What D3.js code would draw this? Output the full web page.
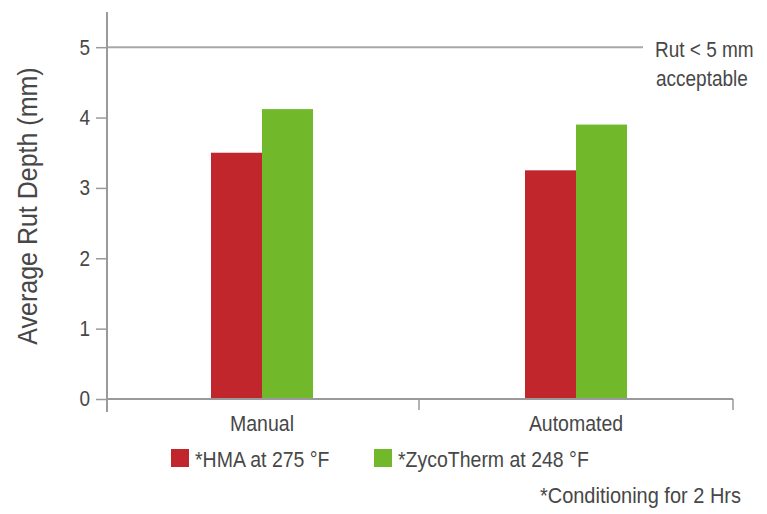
<!DOCTYPE html>
<html>
<head>
<meta charset="utf-8">
<script src="https://cdn.jsdelivr.net/npm/d3@7"></script>
<style>
  html, body { margin: 0; padding: 0; background: #fff; }
  svg { display: block; }
  text { font-family: "Liberation Sans", Arial, Helvetica, sans-serif; fill: #474747; }
</style>
</head>
<body>
<svg id="chart" width="767" height="514"></svg>
<script>
// Rut depth by compaction method and mix type
const categories = ["Manual", "Automated"];
const seriesNames = ["*HMA at 275 °F", "*ZycoTherm at 248 °F"];
const hmaValues = [3.5, 3.25];
const zycoValues = [4.12, 3.9];
const yTicks = [0, 1, 2, 3, 4, 5];
const limitValue = 5;
const limitLabel = ["Rut < 5 mm", "acceptable"];
const footnote = "*Conditioning for 2 Hrs";
const yTitle = "Average Rut Depth (mm)";

const colors = ["#c1262d", "#71b82a"];
const axisColor = "#9a9a9a";
const stretch = 1.12; // slightly tall lettering

const svg = d3.select("#chart");

const plot = { left: 107, right: 734, top: 12, bottom: 399 };

const y = d3.scaleLinear().domain([0, 5.5]).range([plot.bottom, plot.top]);
const x = d3.scaleBand().domain(categories).range([105, 733]).padding(0);
const groupWidth = 102;
const xInner = d3.scaleBand().domain(seriesNames).range([0, groupWidth]).padding(0);

const rows = categories.map((c, i) => ({ category: c, values: [hmaValues[i], zycoValues[i]] }));

// text placed at (x, y) on its baseline, stretched vertically
function label(parent, x0, y0, str, size, anchor) {
  return parent.append("text")
    .attr("transform", `translate(${x0},${y0}) scale(1,${stretch})`)
    .attr("text-anchor", anchor || "start")
    .style("font-size", size + "px")
    .text(str);
}

// Limit line at 5 mm
svg.append("line")
  .attr("x1", plot.left).attr("x2", 643)
  .attr("y1", y(limitValue)).attr("y2", y(limitValue))
  .attr("stroke", "#a8a8a8").attr("stroke-width", 2);

label(svg, 655, 57, limitLabel[0], 19);
label(svg, 656, 86, limitLabel[1], 19);

// Bars
const groups = svg.append("g").selectAll("g")
  .data(rows).join("g")
  .attr("transform", d => `translate(${x(d.category) + (x.bandwidth() - groupWidth) / 2},0)`);

groups.selectAll("rect")
  .data(d => d.values.map((v, j) => ({ series: seriesNames[j], value: v, j })))
  .join("rect")
  .attr("x", d => xInner(d.series))
  .attr("width", xInner.bandwidth())
  .attr("y", d => y(d.value))
  .attr("height", d => y(0) - y(d.value))
  .attr("fill", d => colors[d.j]);

// Y axis
const yAxis = d3.axisLeft(y).tickValues(yTicks).tickSize(11).tickPadding(6).tickFormat(d3.format("d"));
const gy = svg.append("g").attr("transform", `translate(${plot.left},0)`).call(yAxis);
gy.select(".domain").remove();
gy.selectAll(".tick line").attr("stroke", axisColor).attr("stroke-width", 1.5);
gy.selectAll(".tick text").style("font-size", "19px").attr("fill", "#474747")
  .style("font-family", '"Liberation Sans", Arial, sans-serif')
  .attr("transform", `scale(1,${stretch})`);
svg.append("line")
  .attr("x1", plot.left).attr("x2", plot.left)
  .attr("y1", plot.top).attr("y2", 412)
  .attr("stroke", axisColor).attr("stroke-width", 2);

// X axis: baseline with ticks at band boundaries
const xAxis = d3.axisBottom(x).tickSize(0).tickPadding(0).tickFormat(() => "");
const gx = svg.append("g").attr("transform", `translate(0,${plot.bottom})`).call(xAxis);
gx.select(".domain").remove();
gx.selectAll(".tick").each(function (d) {
  label(d3.select(this), 0, 32, d, 19.5, "middle");
});
svg.append("line")
  .attr("x1", plot.left).attr("x2", x.range()[1])
  .attr("y1", plot.bottom).attr("y2", plot.bottom)
  .attr("stroke", axisColor).attr("stroke-width", 2);
const boundaries = categories.slice(1).map(c => x(c)).concat([x.range()[1]]);
svg.append("g").selectAll("line")
  .data(boundaries).join("line")
  .attr("x1", d => d).attr("x2", d => d)
  .attr("y1", plot.bottom).attr("y2", plot.bottom + 11)
  .attr("stroke", axisColor).attr("stroke-width", 1.5);

// Y title
svg.append("text")
  .attr("transform", `translate(37,206) rotate(-90) scale(1,${stretch})`)
  .attr("text-anchor", "middle")
  .style("font-size", "25px")
  .text(yTitle);

// Legend
const legendX = [171, 374];
const legend = svg.append("g").selectAll("g")
  .data(seriesNames).join("g")
  .attr("transform", (d, i) => `translate(${legendX[i]},449)`);
legend.append("rect")
  .attr("width", 18).attr("height", 18)
  .attr("fill", (d, i) => colors[i]);
legend.each(function (d) {
  label(d3.select(this), 24, 18, d, 19.5);
});

// Footnote
label(svg, 741, 503, footnote, 20, "end");
</script>
</body>
</html>
